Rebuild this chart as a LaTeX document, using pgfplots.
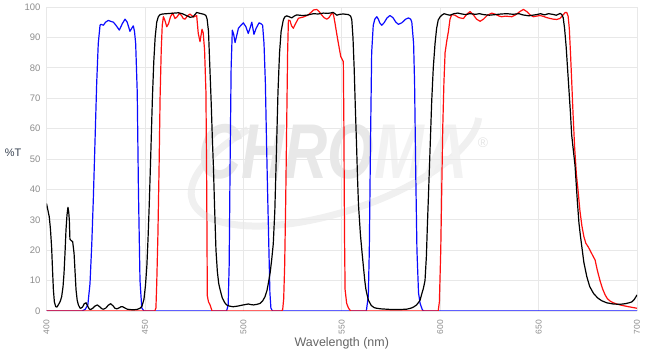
\documentclass[border=0pt]{standalone}
\usepackage{pgfplots}
\pgfplotsset{compat=1.18}
\usepackage{fontspec}
\setmainfont{Liberation Sans}
\definecolor{tickgray}{RGB}{140,140,140}
\definecolor{labgray}{RGB}{100,100,100}
\definecolor{ylab}{RGB}{55,65,80}
\definecolor{gridc}{RGB}{232,232,232}
\definecolor{cblue}{RGB}{10,10,255}
\definecolor{cred}{RGB}{255,15,15}
\begin{document}
\begin{tikzpicture}
\useasboundingbox (0,0) rectangle (652bp,354bp);
% watermark
\draw[line width=7bp, black!6, rotate around={18:(335bp,200bp)}] (335bp,200bp) ++(120:150bp and 58bp) arc[start angle=120, end angle=350, x radius=150bp, y radius=58bp];
\node[font=\fontsize{60}{60}\selectfont\bfseries\itshape, text=black!9, yscale=1.3] at (333bp,202bp) {CHRO\textcolor{black!5}{MA}};
\node[font=\fontsize{14}{14}\selectfont, text=black!10] at (483bp,211bp) {®};
\begin{axis}[
  at={(46.5bp,43bp)}, anchor=south west,
  scale only axis, width=590.5bp, height=304bp,
  xmin=400, xmax=700, ymin=0, ymax=100,
  axis line style={draw=none},
  major tick length=0pt,
  grid=major, grid style={draw=gridc, line width=0.8bp},
  xtick={400,450,...,700}, ytick={0,10,...,100},
  /pgf/number format/assume math mode=true,
  xticklabel style={font=\fontsize{8.5}{10}\selectfont, text=tickgray, rotate=90, anchor=east, inner sep=0pt, xshift=-9bp},
  yticklabel style={font=\fontsize{9.5}{11}\selectfont, text=tickgray, anchor=east, inner sep=0pt, xshift=-6bp},
  xlabel={Wavelength (nm)},
  xlabel style={font=\fontsize{12.5}{14}\selectfont, text=labgray, at={(axis description cs:0.5,0)}, anchor=center, inner sep=0pt, yshift=-32bp},
  ylabel={\%T},
  ylabel style={font=\fontsize{11}{13}\selectfont, text=ylab, at={(axis description cs:-0.0567,0.52)}, anchor=center, rotate=-90, inner sep=0pt},
  every axis plot/.append style={line width=1.2bp, line join=round},
]
\addplot[cblue] coordinates {(400,0)(418,0)(419.6,0.5)(421,2)(422.1,9)(423,22)(423.8,37)(424.7,57)(425.5,75)(426.3,88)(427.2,94)(427.7,94.3)(428.9,94)(430,95)(431.4,95.6)(432.5,95.3)(434,95)(435.5,93.8)(437,92.4)(438.5,94.5)(439.9,96)(441,95)(442.4,92)(443.3,93)(444.1,93.8)(444.7,92)(445.3,88)(446.1,72)(446.7,40)(447.5,10)(448.4,1)(449.5,0)
(491.5,0)(492.3,2)(492.8,15)(493.3,50)(493.8,80)(494.4,92.4)(495.1,91)(495.8,88.3)(496.6,90.5)(497.5,93)(498.8,94)(500,94.8)(501.3,93.5)(502.5,91.3)(503.4,93)(504.3,95)(505.4,91)(506.5,93)(508,94.8)(509,94.5)(509.8,94)(510.5,88)(511.2,75)(511.8,55)(512.3,40)(513,20)(513.5,6)(514,1)(514.8,0)
(562.5,0)(563.5,5)(564,20)(564.6,55)(565.2,85)(566,94)(566.8,96)(567.8,96.8)(568.6,96)(569.3,94.8)(570.3,94)(571.5,94.8)(573,96.4)(574.5,97.2)(576,96.5)(577.5,95)(578.8,94.3)(580.5,94.8)(582.5,96)(583.9,96.4)(585,96)(585.6,95)(586.5,88)(587,75)(587.6,45)(588.2,20)(589,6)(589.8,2.5)(591,0.3)(592,0)(700,0)};
\addplot[cred] coordinates {(400,0)(455,0)(455.6,1)(456,9)(456.6,25)(457.2,47.5)(457.7,70)(458.3,86)(458.8,94)(459.4,96.8)(460.2,95.5)(461.1,93.5)(462,94.5)(463,96.8)(464.1,98)(465.3,96.2)(466.4,96.8)(467.5,97.9)(468.5,97.3)(469.5,96.2)(470.4,96)(471.5,97)(472.9,97.7)(474.6,96.7)(476.3,97.2)(477.1,91.3)(478,88.6)(479,92.7)(479.6,91.5)(480.3,86)(481,72)(481.4,40)(481.7,5)(482.3,3)(483.1,2)(484.1,0)
(519.5,0)(520,0.5)(520.5,4)(521,15)(521.5,35)(522,60)(522.5,85)(522.9,95.7)(523.7,95.5)(524.5,93.8)(525.4,93)(526.5,94.5)(528,96.3)(530.5,96.7)(533,97.4)(534.5,98.3)(535.6,99)(537.3,99.2)(538.5,98.5)(539.8,97.4)(541,96.5)(542.4,96)(543.5,96.5)(544.5,97.5)(545.4,98.2)(546,96.8)(546.6,94.6)(547.5,91)(548.3,88)(549.5,83.7)(550.8,82)(551.1,60)(551.4,25)(551.7,7)(552.5,2.5)(553.4,1)(554.5,0)
(599,0)(599.6,3)(600.3,20)(600.8,40)(601.3,60)(601.9,75)(602.5,85)(603.4,89)(604.2,92)(605,96)(605.9,97.5)(607.5,97.3)(609.5,96.5)(611.8,96.2)(613.5,97.6)(615.2,98.5)(617,97.3)(618.5,96)(620.3,95.3)(622,96)(624,97.3)(626.2,98)(628,97.6)(630,97)(631.3,96.8)(633,97)(634.8,96.9)(636.4,96.8)(638.5,97.5)(640.5,98.5)(642.3,99.2)(644,98.5)(645.5,97.5)(647.3,96.8)(649,97)(650.8,97.2)(652.5,96.9)(654.2,96.5)(656,96.2)(657.5,96)(659.2,95.9)(660.8,96.2)(662.6,97.5)(663.5,98.2)(664.3,98.2)(665,97)(665.6,93)(666.2,85)(666.8,76)(667.5,65)(668.3,54)(669.2,45)(670,40)(671,33)(672,28)(673,24.5)(674,22.3)(675.3,21)(676.5,19.5)(677.7,18)(678.7,16.8)(679.8,13.5)(681.2,10)(682.5,7.3)(683.8,5.3)(685,4)(686.5,3.2)(688,2.7)(689.7,2.3)(692,1.9)(695,1.5)(697.5,1.2)(700,0.9)};
\addplot[black] coordinates {(400,35.4)(401.4,31)(402,27)(402.6,21)(403.1,13)(403.5,7)(404,3)(404.7,1.4)(405.3,1.3)(406,2)(407,3.2)(407.7,4.7)(408.4,8)(408.9,12.4)(409.4,19)(409.9,26.6)(410.4,31.5)(410.9,34.1)(411.3,32.5)(411.6,29.9)(411.9,23.6)(412.5,23.2)(413.3,22.8)(414,19)(414.5,13)(415,7)(415.6,3.5)(416.2,2)(417,1)(417.4,0.9)(418.3,1.3)(419.2,2.4)(420.1,2.7)(421,1.5)(421.8,0.6)(422.5,0.5)(423.5,0.9)(424.6,1.6)(425.8,2)(427,1.4)(428.2,0.7)(429,0.6)(430.2,1)(431.4,1.9)(432.6,2.4)(433.8,1.7)(434.8,0.9)(435.7,0.7)(436.8,1)(437.8,1.4)(438.7,1.4)(439.8,1)(441,0.6)(442,0.5)(444,0.4)(446,0.5)(447.5,0.9)(448.5,1.6)(449.5,3.8)(450.3,8.5)(451,15)(451.6,24)(452.2,35)(453,52)(453.8,70)(454.5,82)(455.2,90)(456,95)(456.8,96.8)(457.7,97.5)(459,97.7)(461,97.8)(463,97.9)(465,98)(467,98.1)(469,97.8)(471,97.2)(473,96.6)(474.5,96.8)(476.3,98.2)(478,97.9)(480,97.6)(481,97.2)(481.6,96)(482.3,92)(483,80)(483.7,68)(484.3,56)(484.8,47.5)(485.4,34)(486.1,20)(486.8,13)(487.5,9)(488.2,7)(489.3,4.3)(490.5,2.8)(491.5,2)(493,1.6)(494.9,1.4)(497,1.6)(500,2)(502.5,2.3)(504,2.1)(505.1,2)(507,2.2)(508.5,2.5)(509.8,3.3)(511,4.7)(512,6.7)(512.7,9.1)(513.6,12.5)(514.4,16.8)(515.2,22)(516,33)(516.8,52)(517.6,72)(518.4,85)(519.2,92)(520.3,95.7)(521,96.7)(522,97.1)(523.3,96.8)(524.6,96.4)(525.8,97)(527.1,97.4)(530,97.2)(532.2,97.3)(535.6,97.8)(538,97.7)(540.7,98)(543,97.9)(545.7,98.2)(547.5,97.3)(549,97.6)(550.8,97.7)(553.4,97.5)(554.5,97)(555.1,95.8)(555.7,90)(556.3,80)(556.9,67)(557.5,55)(558,44)(558.5,35)(559.5,25)(560.2,20)(561,14.6)(561.7,10)(562.3,7)(563.5,3.6)(565,1.8)(566.5,1.1)(567.8,0.9)(570,0.7)(575,0.5)(580,0.5)(583,0.6)(585,0.9)(586.5,1.3)(588,2)(589,2.8)(589.8,3.6)(590.6,5.5)(591.5,7.5)(592.3,10)(593,18)(593.5,28)(594,37)(594.8,52)(595.7,69)(596.5,80)(597.4,88)(598.2,93)(599,95.7)(600,96.8)(600.8,97.3)(602,97.8)(603.5,97.5)(605,97.3)(607,97.8)(609,98)(611,97.7)(613,97.5)(615,97.8)(618,97.6)(620,97.8)(622,97.5)(625,97.3)(628,97.5)(631,97.7)(634,97.8)(637,97.6)(640,97.8)(642,97.4)(645,97.1)(647,97.3)(649,97.5)(651,97.8)(653,97.4)(655,97.8)(657,97.6)(659,97.3)(661,97.9)(661.8,97.5)(662.5,96.5)(663.2,93)(664,87)(664.7,80)(665.5,72)(666.2,65)(666.8,58)(667.8,52)(668.5,48)(669,43)(669.7,36)(670.5,29)(671.2,25)(672,21)(673,16)(674.5,11.3)(676,8)(677.9,5.8)(680,4.3)(682,3.4)(684.6,2.7)(688,2.3)(691.4,2.2)(694,2.4)(696,2.7)(697.4,3)(698.5,3.7)(699.3,4.5)(700,5.3)};
\end{axis}
\end{tikzpicture}
\end{document}
